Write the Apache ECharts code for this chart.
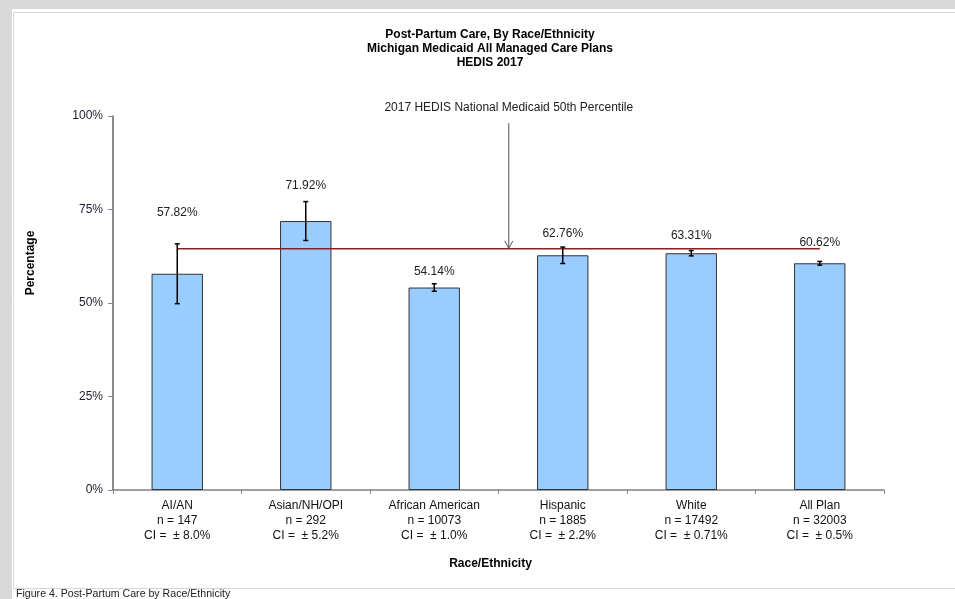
<!DOCTYPE html>
<html>
<head>
<meta charset="utf-8">
<script src="https://cdn.jsdelivr.net/npm/echarts@6/dist/echarts.min.js"></script>
<style>
html,body{margin:0;padding:0;background:#d9d9d9;}
#chart{width:955px;height:599px;}
</style>
</head>
<body>
<div id="chart"></div>
<script>
// ---- data ----
const categories = ['AI/AN', 'Asian/NH/OPI', 'African American', 'Hispanic', 'White', 'All Plan'];
const nValues = [147, 292, 10073, 1885, 17492, 32003];
const ciValues = ['8.0', '5.2', '1.0', '2.2', '0.71', '0.5'];
const rates = [57.82, 71.92, 54.14, 62.76, 63.31, 60.62];
const benchmark = 64.48;
const benchmarkLabel = '2017 HEDIS National Medicaid 50th Percentile';
const yTicks = [0, 25, 50, 75, 100];
const titleLines = ['Post-Partum Care, By Race/Ethnicity', 'Michigan Medicaid All Managed Care Plans', 'HEDIS 2017'];
const caption = 'Figure 4. Post-Partum Care by Race/Ethnicity';

// ---- styling ----
const FONT = '"Liberation Sans", Arial, sans-serif';
const labelDistances = [55, 29, 10, 16, 12, 15];
const arrowCategory = 2, arrowFrac = 0.58, arrowTopValue = 98.1;

const chart = echarts.init(document.getElementById('chart'));

const option = {
  backgroundColor: '#d9d9d9',
  animation: false,
  textStyle: { fontFamily: FONT },
  title: {
    text: titleLines.join('\n'),
    left: 490, top: 28, padding: 0, textAlign: 'center',
    textStyle: { fontFamily: FONT, fontSize: 12, fontWeight: 'bold', color: '#000', lineHeight: 14 }
  },
  graphic: [
    { type: 'rect', z: -10, shape: { x: 12, y: 9, width: 943, height: 590 }, style: { fill: '#ffffff' }, silent: true },
    { type: 'rect', z: -9, shape: { x: 13.5, y: 12.5, width: 950, height: 576 }, style: { fill: null, stroke: '#d6d6d6', lineWidth: 1 }, silent: true },
    { type: 'text', left: 16, top: 589, style: { text: caption, fontFamily: FONT, fontSize: 10.6, fill: '#222' } }
  ],
  grid: { left: 113, right: 71, top: 116, bottom: 109, containLabel: false },
  xAxis: {
    type: 'category',
    data: categories,
    name: 'Race/Ethnicity',
    nameLocation: 'middle',
    nameGap: 68,
    nameTextStyle: { fontFamily: FONT, fontSize: 12, fontWeight: 'bold', color: '#000', padding: [0, 16, 0, 0] },
    axisLine: { show: true, lineStyle: { color: '#808080', width: 1.5 } },
    axisTick: { show: true, alignWithLabel: false, length: 4, lineStyle: { color: '#808080' } },
    axisLabel: {
      margin: 8, fontSize: 12, color: '#111', lineHeight: 15, interval: 0,
      formatter: (v, i) => v + '\nn = ' + nValues[i] + '\nCI =  \u00b1 ' + ciValues[i] + '%'
    },
    splitLine: { show: false }
  },
  yAxis: {
    type: 'value', min: yTicks[0], max: yTicks[yTicks.length - 1], interval: yTicks[1] - yTicks[0],
    name: 'Percentage', nameLocation: 'middle', nameRotate: 90, nameGap: 76,
    nameTextStyle: { fontFamily: FONT, fontSize: 12, fontWeight: 'bold', color: '#000', padding: [0, 0, 0, 80] },
    axisLine: { show: true, lineStyle: { color: '#666', width: 1.5 } },
    axisTick: { show: true, length: 5, lineStyle: { color: '#888' } },
    axisLabel: { margin: 10, fontSize: 12, color: '#1c1c2e', formatter: '{value}%' },
    splitLine: { show: false }
  },
  series: [
    {
      type: 'bar', barWidth: '40%', z: 2,
      data: rates.map((v, i) => ({ value: v, label: { distance: labelDistances[i] } })),
      itemStyle: { color: '#99ccff', borderColor: '#333', borderWidth: 1 },
      label: { show: true, position: 'top', fontSize: 12, color: '#222', formatter: p => p.value.toFixed(2) + '%' }
    },
    {
      type: 'line', z: 3, symbol: 'none', silent: true,
      data: categories.map(() => benchmark),
      lineStyle: { color: '#8b1f1f', width: 1.5 }
    },
    {
      type: 'custom', z: 4, silent: true,
      data: rates.map((v, i) => [i, v - parseFloat(ciValues[i]), v + parseFloat(ciValues[i])]),
      renderItem: (params, api) => {
        const lo = api.coord([api.value(0), api.value(1)]);
        const hi = api.coord([api.value(0), api.value(2)]);
        const cw = 2.5;
        const st = { stroke: '#000', lineWidth: 1.5 };
        return { type: 'group', children: [
          { type: 'line', shape: { x1: lo[0], y1: lo[1], x2: hi[0], y2: hi[1] }, style: st },
          { type: 'line', shape: { x1: lo[0] - cw, y1: lo[1], x2: lo[0] + cw, y2: lo[1] }, style: st },
          { type: 'line', shape: { x1: hi[0] - cw, y1: hi[1], x2: hi[0] + cw, y2: hi[1] }, style: st }
        ]};
      }
    },
    {
      type: 'custom', z: 5, silent: true, clip: false,
      data: [[arrowCategory, arrowTopValue, benchmark]],
      renderItem: (params, api) => {
        const w = api.size([1, 0])[0];
        const top = api.coord([api.value(0), api.value(1)]);
        const bot = api.coord([api.value(0), api.value(2)]);
        const x = top[0] + arrowFrac * w;
        const st = { stroke: '#555', lineWidth: 1 };
        return { type: 'group', children: [
          { type: 'line', shape: { x1: x, y1: top[1], x2: x, y2: bot[1] - 0.5 }, style: st },
          { type: 'polyline', shape: { points: [[x - 4, bot[1] - 8], [x, bot[1] - 0.5], [x + 4, bot[1] - 8]] }, style: Object.assign({ fill: null }, st) },
          { type: 'text', style: { text: benchmarkLabel, x: x, y: top[1] - 15, align: 'center', verticalAlign: 'middle', fontFamily: FONT, fontSize: 12, fill: '#222' } }
        ]};
      }
    }
  ]
};
chart.setOption(option);
</script>
</body>
</html>
